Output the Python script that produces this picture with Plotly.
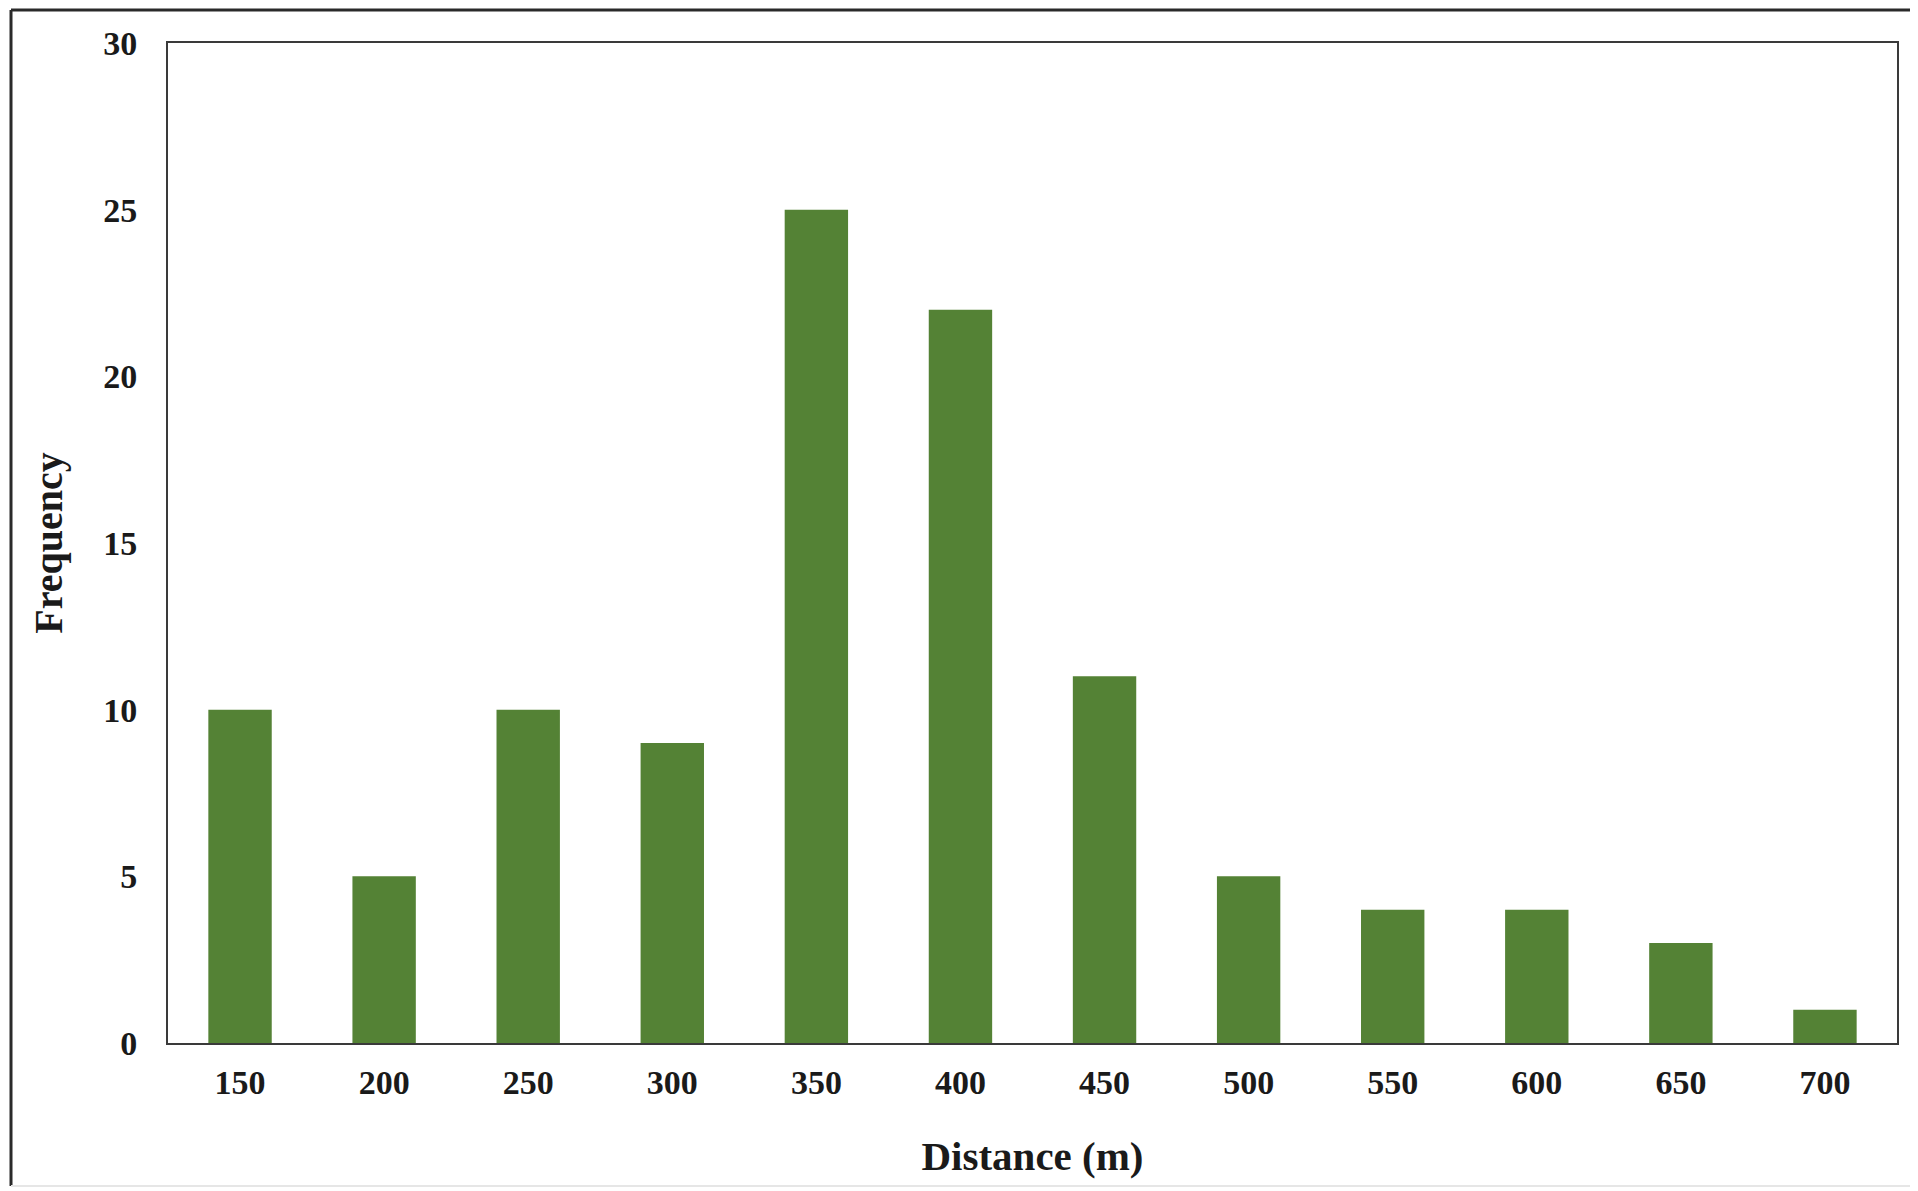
import plotly.graph_objects as go

distances = ["150", "200", "250", "300", "350", "400", "450", "500", "550", "600", "650", "700"]
frequency = [10, 5, 10, 9, 25, 22, 11, 5, 4, 4, 3, 1]
y_ticks = [0, 5, 10, 15, 20, 25, 30]

OFF = 8  # page body margin
W, H = 1918, 1191
L, R, T, B = 168 - OFF, 21 + OFF, 43 - OFF, 148 + OFF
pw, ph = W - L - R, H - T - B

def px(x):
    return (x - OFF - L) / pw

def py(y):
    return (H - B - (y - OFF)) / ph

font_family = "Liberation Serif, Times New Roman, serif"

fig = go.Figure(go.Bar(
    x=distances, y=frequency,
    marker=dict(color="#548235", line=dict(width=0)),
))

fig.update_layout(
    width=W, height=H,
    margin=dict(l=L, r=R, t=T, b=B),
    paper_bgcolor="white", plot_bgcolor="white",
    bargap=0.56,
    showlegend=False,
    font=dict(family=font_family, color="#1a1a1a"),
    xaxis=dict(
        type="category",
        showline=True, linecolor="#3a3a3a", linewidth=2, mirror=True,
        ticks="", showgrid=False,
        ticklabelstandoff=8,
        tickfont=dict(size=34, family=font_family, weight="bold"),
        title=dict(text="<b>Distance (m)</b>", font=dict(size=41, family=font_family), standoff=42),
    ),
    yaxis=dict(
        range=[0, 30], tickvals=y_ticks,
        showline=True, linecolor="#3a3a3a", linewidth=2, mirror=True,
        ticks="", showgrid=False, zeroline=False,
        ticklabelstandoff=22,
        tickfont=dict(size=34, family=font_family, weight="bold"),
        title=dict(text="<b>Frequency</b>", font=dict(size=40, family=font_family), standoff=28),
    ),
    shapes=[
        dict(type="line", xref="paper", yref="paper", x0=px(11), x1=px(1917), y0=py(10), y1=py(10),
             line=dict(color="#2a2a2a", width=3)),
        dict(type="line", xref="paper", yref="paper", x0=px(11), x1=px(11), y0=py(10), y1=py(1186),
             line=dict(color="#2a2a2a", width=3)),
        dict(type="line", xref="paper", yref="paper", x0=px(11), x1=px(1915), y0=py(1186), y1=py(1186),
             line=dict(color="#e6e6e6", width=2)),
        dict(type="line", xref="paper", yref="paper", x0=px(1913), x1=px(1913), y0=py(10), y1=py(1186),
             line=dict(color="#d0d0d0", width=2)),
    ],
)

fig.write_html("out.html")
